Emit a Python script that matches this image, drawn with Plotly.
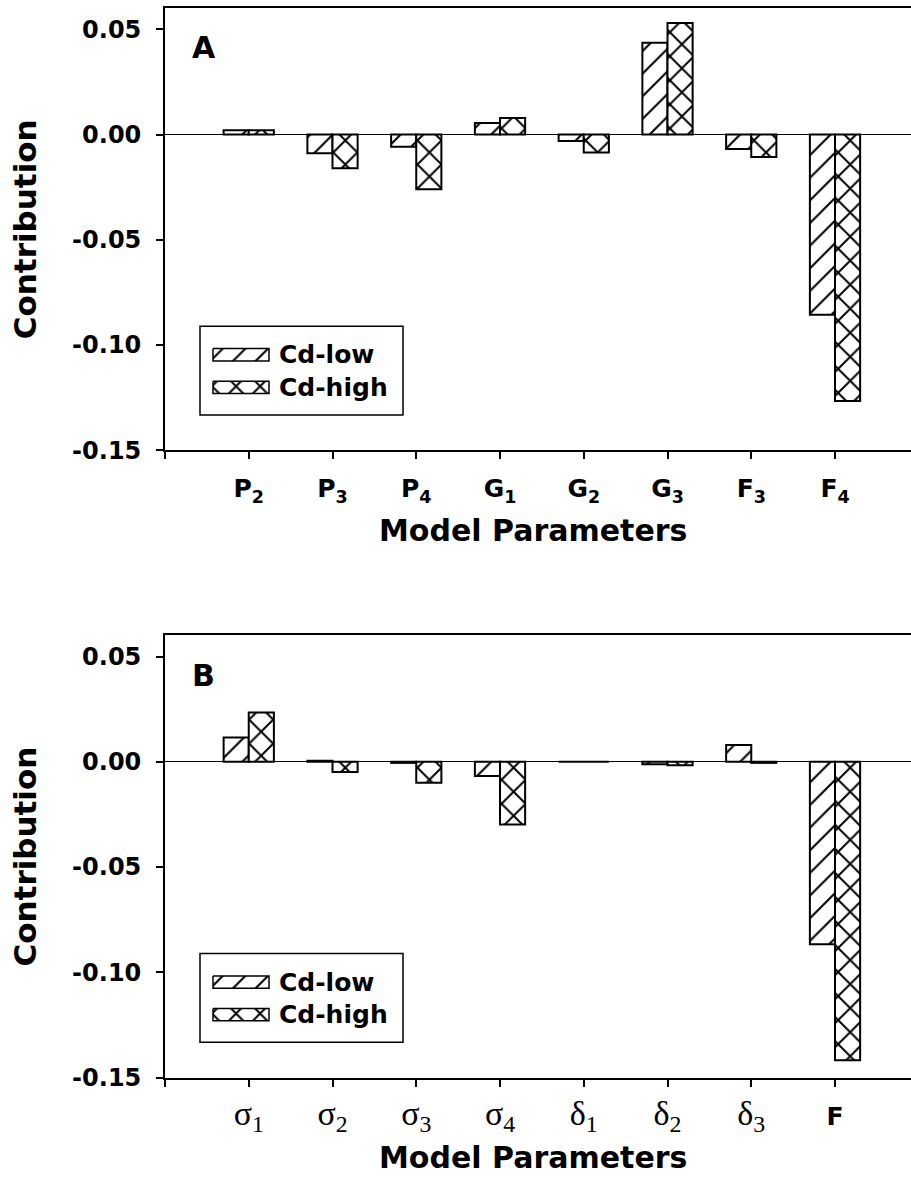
import plotly.graph_objects as go

# ---- data -------------------------------------------------------------
params_a = ["P2", "P3", "P4", "G1", "G2", "G3", "F3", "F4"]
cd_low_a = [0.0020, -0.0089, -0.0058, 0.0055, -0.0031, 0.0436, -0.0069, -0.0856]
cd_high_a = [0.0020, -0.0160, -0.0260, 0.0079, -0.0085, 0.0530, -0.0107, -0.1265]

params_b = ["σ1", "σ2", "σ3", "σ4", "δ1", "δ2", "δ3", "F"]
cd_low_b = [0.0116, 0.0005, -0.0005, -0.0067, 0.0, -0.0012, 0.0080, -0.0867]
cd_high_b = [0.0234, -0.0049, -0.0100, -0.0298, 0.0, -0.0016, -0.0005, -0.1418]

series_names = ["Cd-low", "Cd-high"]
y_ticks = [-0.15, -0.10, -0.05, 0.00, 0.05]
y_range = [-0.15, 0.06]

# ---- page geometry (pixels) ---------------------------------------------
W, H = 911, 1196
FONT = "DejaVu Sans"
LEFT = 165.0
SLOT = 83.75              # pixels between neighbouring parameters
PANELS_TOP = [8.3, 643.0]
PANELS_BOT = [455.7, 1090.4]
LEGEND_BOX = (200, 330, 403, 420)   # left, top, right, bottom in panel A


def px(x):
    return x / W


def py(y):
    return 1 - y / H


def tick_label(name):
    head, sub = name[0], name[1:]
    if head in "σδ":
        return ("<span style='font-family:Liberation Serif;font-weight:normal;font-size:34px'>"
                f"{head}<sub>{sub}</sub></span>")
    if sub:
        return f"{head}<sub>{sub}</sub>"
    return head


patterns = [
    dict(shape="/", size=16, solidity=0.13, fgcolor="black", fgopacity=1, bgcolor="white"),
    dict(shape="x", size=17, solidity=0.22, fgcolor="black", fgopacity=1, bgcolor="white"),
]

fig = go.Figure()

panels = [
    ("A", params_a, cd_low_a, cd_high_a),
    ("B", params_b, cd_low_b, cd_high_b),
]

for k, (letter, names, low, high) in enumerate(panels):
    xa = "x" if k == 0 else "x2"
    ya = "y" if k == 0 else "y2"
    xpos = [i + 1 for i in range(len(names))]
    for s, vals in enumerate([low, high]):
        fig.add_trace(go.Bar(
            x=xpos, y=vals, name=series_names[s], xaxis=xa, yaxis=ya,
            marker=dict(color="white", line=dict(color="black", width=2),
                        pattern=dict(fillmode="overlay", **patterns[s])),
            showlegend=False,
        ))

    top, bot = PANELS_TOP[k], PANELS_BOT[k]
    axis_x = dict(
        domain=[px(LEFT), 1.0], range=[0, (W - LEFT) / SLOT],
        tickvals=[0] + xpos, ticktext=[""] + [tick_label(n) for n in names],
        tickfont=dict(family=FONT, size=25, color="black", weight="bold"),
        ticks="outside", ticklen=7, tickwidth=1.8, tickcolor="black",
        ticklabelstandoff=8,
        showline=True, linewidth=1.8, linecolor="black", mirror=True,
        showgrid=False, zeroline=False, anchor=ya,
    )
    axis_y = dict(
        domain=[py(bot), py(top)], range=y_range,
        tickvals=y_ticks, ticktext=[f"{v:.2f}" for v in y_ticks],
        tickfont=dict(family=FONT, size=24, color="black", weight="bold"),
        ticks="outside", ticklen=7, tickwidth=1.8, tickcolor="black",
        ticklabelstandoff=10,
        showline=True, linewidth=1.8, linecolor="black",
        showgrid=False, zeroline=True, zerolinecolor="black", zerolinewidth=1,
        anchor=xa,
    )
    suffix = "" if k == 0 else "2"
    fig.update_layout({f"xaxis{suffix}": axis_x, f"yaxis{suffix}": axis_y})

    # panel letter
    fig.add_annotation(text=letter, x=px(190), y=py(top + 40), xref="paper", yref="paper",
                       xanchor="left", yanchor="middle", showarrow=False,
                       font=dict(family=FONT, size=30, color="black", weight="bold"))
    # axis titles
    fig.add_annotation(text="Contribution", x=px(25), y=py((top + bot) / 2),
                       xref="paper", yref="paper", textangle=-90, showarrow=False,
                       xanchor="center", yanchor="middle",
                       font=dict(family=FONT, size=31, color="black", weight="bold"))
    fig.add_annotation(text="Model Parameters", x=px(533), y=py(bot + 81),
                       xref="paper", yref="paper", showarrow=False,
                       xanchor="center", yanchor="middle",
                       font=dict(family=FONT, size=30, color="black", weight="bold"))

    # legend: framed box with wide hatched swatches
    dy = top - PANELS_TOP[0]
    l, t, r, b = LEGEND_BOX
    t, b = t + dy, b + dy
    fig.add_shape(type="rect", xref="paper", yref="paper",
                  x0=px(l), x1=px(r), y0=py(b), y1=py(t),
                  line=dict(color="black", width=1.5), fillcolor="rgba(0,0,0,0)",
                  layer="above")
    lx, ly = f"x{3 + k}", f"y{3 + k}"
    fig.update_layout({
        f"xaxis{3 + k}": dict(domain=[px(l), px(r)], range=[l, r], visible=False,
                              fixedrange=True, anchor=ly),
        f"yaxis{3 + k}": dict(domain=[py(b), py(t)], range=[b, t], visible=False,
                              fixedrange=True, anchor=lx),
    })
    sw_l, sw_r, sw_h = l + 13, l + 69, 12.5
    for s in range(2):
        cy = t + 29 + s * 33
        fig.add_trace(go.Scatter(
            x=[sw_l, sw_r, sw_r, sw_l, sw_l],
            y=[cy - sw_h / 2, cy - sw_h / 2, cy + sw_h / 2, cy + sw_h / 2, cy - sw_h / 2],
            xaxis=lx, yaxis=ly, mode="lines", fill="toself",
            fillpattern=patterns[s], line=dict(color="black", width=1.5),
            showlegend=False, hoverinfo="skip",
        ))
        fig.add_annotation(text=series_names[s], x=px(l + 77), y=py(cy),
                           xref="paper", yref="paper", showarrow=False,
                           xanchor="left", yanchor="middle",
                           font=dict(family=FONT, size=25, color="black", weight="bold"))

fig.update_layout(
    width=W, height=H, autosize=False,
    margin=dict(l=0, r=0, t=0, b=0),
    paper_bgcolor="white", plot_bgcolor="white",
    barmode="group", bargap=0.4, bargroupgap=0.0,
    showlegend=False,
)

fig.write_html("out.html")
